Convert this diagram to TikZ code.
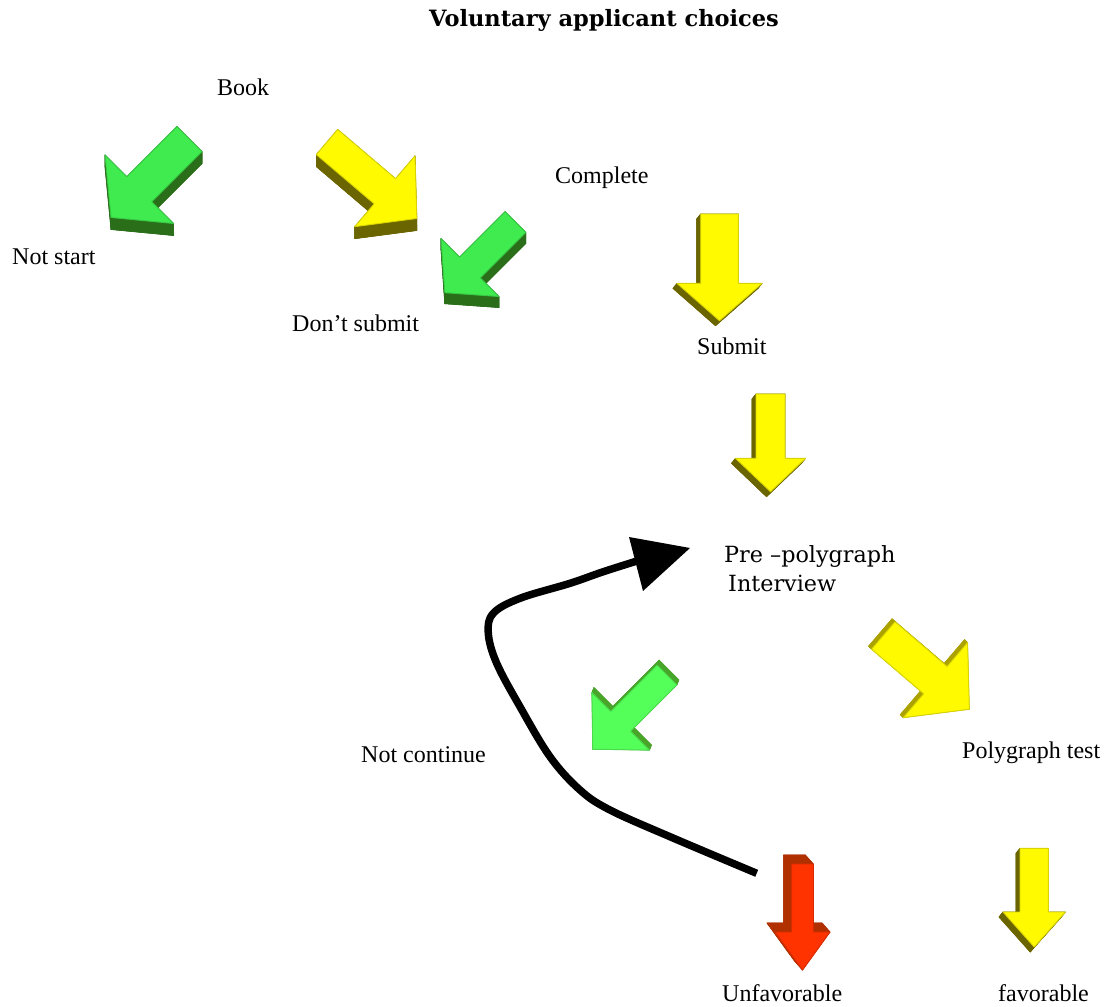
\documentclass[tikz,border=0pt]{standalone}
\usepackage{fontspec}
\setmainfont{Liberation Serif}
\newfontfamily\bkfont{DejaVu Serif}
\definecolor{grnface}{HTML}{3FEB4F}
\definecolor{grnside}{HTML}{2A6E1A}
\definecolor{ltgface}{HTML}{55FF5A}
\definecolor{ltgside}{HTML}{48A52A}
\definecolor{yelface}{HTML}{FFFA00}
\definecolor{yelside}{HTML}{6B6500}
\definecolor{yelside2}{HTML}{ABA200}
\definecolor{redface}{HTML}{FF3300}
\definecolor{redside}{HTML}{B03000}
% #1 tail centre, #2 angle, #3 length, #4 shaft half width, #5 head half width,
% #6 head length, #7 face colour, #8 side colour, #9 extrusion vector
\newcommand\blockarrow[9]{%
  \begin{scope}[shift={#1},rotate=#2]
    \coordinate (p1) at (0,#4);
    \coordinate (p2) at ({#3-#6},#4);
    \coordinate (p3) at ({#3-#6},#5);
    \coordinate (p4) at (#3,0);
    \coordinate (p5) at ({#3-#6},-#5);
    \coordinate (p6) at ({#3-#6},-#4);
    \coordinate (p7) at (0,-#4);
  \end{scope}
  \begin{scope}[shift={#9},shift={#1},rotate=#2]
    \coordinate (q1) at (0,#4);
    \coordinate (q2) at ({#3-#6},#4);
    \coordinate (q3) at ({#3-#6},#5);
    \coordinate (q4) at (#3,0);
    \coordinate (q5) at ({#3-#6},-#5);
    \coordinate (q6) at ({#3-#6},-#4);
    \coordinate (q7) at (0,-#4);
  \end{scope}
  \path[sideface=#8] (q1)--(q2)--(q3)--(q4)--(q5)--(q6)--(q7)--cycle;
  \foreach \i/\j in {1/2,2/3,3/4,4/5,5/6,6/7,7/1}
    \path[sideface=#8] (p\i)--(p\j)--(q\j)--(q\i)--cycle;
  \path[topface=#7] (p1)--(p2)--(p3)--(p4)--(p5)--(p6)--(p7)--cycle;
}
\tikzset{
  sideface/.style={fill=#1,draw=#1,line width=0.6pt,line join=round},
  topface/.style={fill=#1,draw=#1!85!black,line width=0.9pt,line join=round},
  lbl/.style={anchor=west,inner sep=0pt,font=\fontsize{24}{28}\selectfont},
  bklbl/.style={anchor=west,inner sep=0pt,font=\bkfont\fontsize{22.3}{26}\selectfont},
  loopline/.style={line width=7.5pt,line cap=butt,line join=round}
}
\begin{document}
\begin{tikzpicture}[x=1pt,y=-1pt]
\useasboundingbox[fill=white] (0,0) rectangle (1104,1007);

% title
\node[inner sep=0pt,font=\bkfont\bfseries\fontsize{22.5}{26}\selectfont] (title) at (604,20) {Voluntary applicant choices};

% labels
\node[lbl] (book) at (217,87) {Book};
\node[lbl] (complete) at (555,178) {Complete};
\node[lbl] (notstart) at (12,257) {Not start};
\node[lbl] (dontsubmit) at (292,323) {Don’t submit};
\node[lbl] (submit) at (697,346) {Submit};
\node[bklbl] (prepoly) at (724,556) {Pre –polygraph};
\node[bklbl] (interview) at (728,583) {Interview};
\node[lbl] (notcont) at (361,755) {Not continue};
\node[lbl] (polytest) at (962,753) {Polygraph test};
\node[lbl] (unfav) at (722,993) {Unfavorable};
\node[lbl] (fav) at (998,993) {favorable};

% block arrows
\blockarrow{(189.5,139)}{225}{111}{17.7}{48.5}{40}{grnface}{grnside}{(0,12)}
\blockarrow{(327,142)}{-40.4}{118}{16.5}{46.5}{42}{yelface}{yelside}{(0,12)}
\blockarrow{(515.5,222)}{225}{100}{14.7}{41}{35.6}{grnface}{grnside}{(0,11)}
\blockarrow{(719.5,214)}{-90}{106.7}{18.8}{42.5}{37.3}{yelface}{yelside}{(-4,5)}
\blockarrow{(770.5,394)}{-90}{97.7}{14.5}{35}{33.4}{yelface}{yelside}{(-4,5)}
\blockarrow{(883.3,635.5)}{-40.6}{113.3}{18}{49.4}{44.7}{yelface}{yelside2}{(-3,-3)}
\blockarrow{(667,675)}{225}{105}{14}{40.7}{39.5}{ltgface}{ltgside}{(2,-5)}
\blockarrow{(802.5,864)}{-90}{106}{10.8}{27.5}{38}{redface}{redside}{(-8,-9)}
\blockarrow{(1034.2,848.3)}{-90}{98.7}{14.2}{31.2}{35}{yelface}{yelside}{(-4,5)}

% looping black arrow
\coordinate (loopstart) at (756.7,873.3);
\coordinate (loopend) at (635,561.7);
\coordinate (tipA) at (629,537);
\coordinate (tipB) at (690,548);
\coordinate (tipC) at (643,591);
\draw[loopline] plot[smooth,tension=0.6] coordinates {(756.7,873.3) (670,836.7) (610,810) (580,790) (550,756.7) (520,706.7) (496.7,663.3) (488.3,633.3) (493.3,613.3) (520,598.3) (570,583.3) (603.3,571.7) (637,561)};
\fill (tipA) -- (tipB) -- (tipC) -- cycle;
\end{tikzpicture}
\end{document}
